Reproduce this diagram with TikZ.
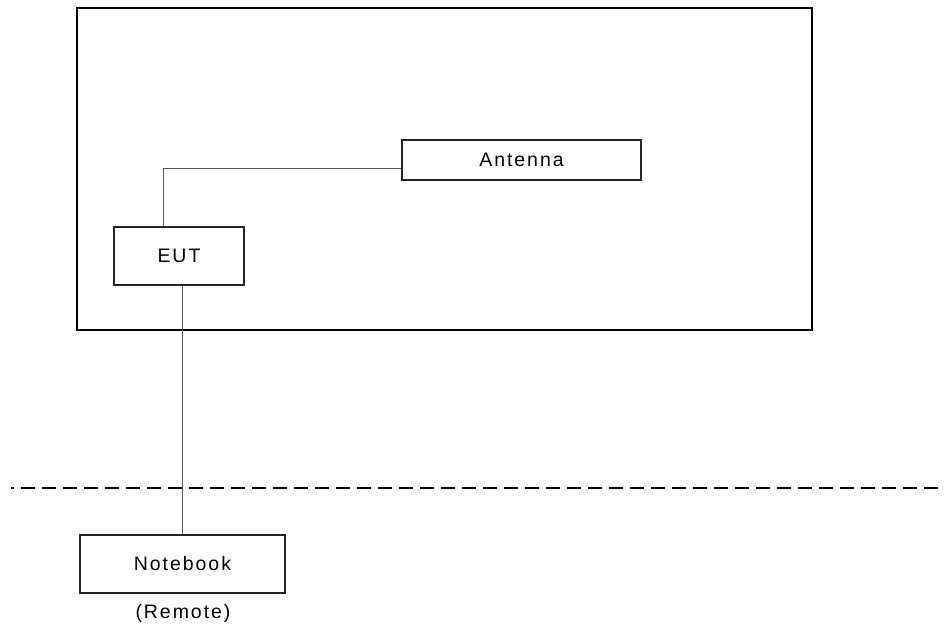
\documentclass[tikz,border=0pt]{standalone}
\usepackage{fontspec}
\setmainfont{Liberation Sans}[LetterSpace=10]
\begin{document}
\begin{tikzpicture}[x=1pt,y=-1pt,
  box/.style={draw=black!85,line width=1.3pt,minimum height=58pt,inner sep=0pt,font=\fontsize{19.5}{23}\selectfont},
  frame/.style={draw=black,line width=1.8pt,inner sep=0pt},
  wire/.style={draw=black!65,line width=1pt},
  divider/.style={draw=black,line width=1.8pt,dash pattern=on 14pt off 7pt,dash phase=11pt}]
\useasboundingbox (0,0) rectangle (945,628);
\node[frame,minimum width=735pt,minimum height=322pt] (room) at (444.5,169) {};
\node[box,minimum width=130pt] (eut) at (179,256) {EUT};
\node[box,minimum width=239pt,minimum height=40pt] (ant) at (521.5,160) {Antenna};
\node[box,minimum width=205pt] (nb) at (182.5,564) {Notebook};
\node[inner sep=0pt,font=\fontsize{19.5}{23}\selectfont] (remote) at (183,613) {(Remote)};
\coordinate (dl) at (11,488);
\coordinate (dr) at (945,488);
\draw[wire] ([xshift=-16pt]eut.north) |- ([yshift=-9pt]ant.west);
\draw[wire] (eut.south -| nb.north) -- (nb.north);
\draw[divider] (dl) -- (dr);
\end{tikzpicture}
\end{document}
